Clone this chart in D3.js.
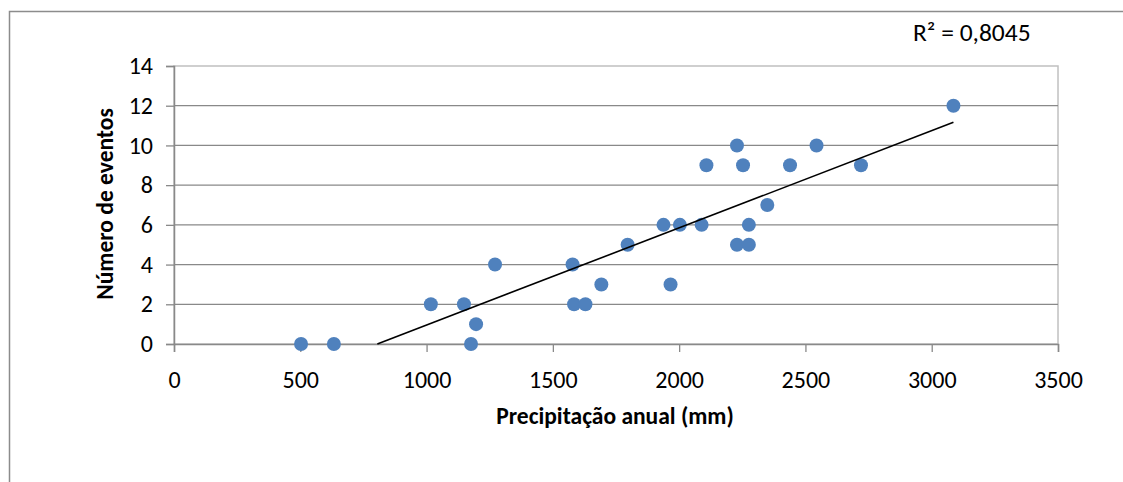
<!DOCTYPE html>
<html>
<head>
<meta charset="utf-8">
<script src="https://cdn.jsdelivr.net/npm/d3@7"></script>
<style>
  body { margin: 0; background: #fff; }
  svg text { font-family: Carlito, Calibri, Lato, sans-serif; fill: #000; }
</style>
</head>
<body>
<svg id="chart" width="1123" height="482"></svg>
<script>
// precipitação anual (mm) e número de eventos
var precip = [503, 633, 1017, 1148, 1176, 1196, 1271, 1578, 1584, 1629, 1692,
  1796, 1938, 1966, 2003, 2089, 2108, 2229, 2229, 2253, 2276, 2276, 2349, 2439,
  2544, 2720, 3086];
var eventos = [0, 0, 2, 2, 0, 1, 4, 4, 2, 2, 3,
  5, 6, 3, 6, 6, 9, 10, 5, 9, 6, 5, 7, 9,
  10, 9, 12];
var xTicks = [0, 500, 1000, 1500, 2000, 2500, 3000, 3500];
var yTicks = [0, 2, 4, 6, 8, 10, 12, 14];
var r2Label = "R² = 0,8045";

var svg = d3.select("#chart");
var pLeft = 174, pRight = 1058, pTop = 66, pBottom = 344;

var x = d3.scaleLinear().domain([0, 3500]).range([pLeft, pRight]);
var y = d3.scaleLinear().domain([0, 14]).range([pBottom, pTop]);

// outer frame (only left/top visible)
svg.append("rect")
  .attr("x", 9.5).attr("y", 11.5)
  .attr("width", 1300).attr("height", 600)
  .attr("fill", "none").attr("stroke", "#8c8c8c").attr("stroke-width", 1.5);

// plot area border
svg.append("rect")
  .attr("x", pLeft).attr("y", pTop)
  .attr("width", pRight - pLeft).attr("height", pBottom - pTop)
  .attr("fill", "none").attr("stroke", "#c0c0c0").attr("stroke-width", 1.5);

// gridlines
svg.append("g")
  .selectAll("line")
  .data(yTicks.filter(d => d > 0 && d < 14))
  .join("line")
  .attr("x1", pLeft).attr("x2", pRight)
  .attr("y1", d => y(d)).attr("y2", d => y(d))
  .attr("stroke", "#898989").attr("stroke-width", 1.3);

// y axis
var yAxis = svg.append("g")
  .attr("transform", "translate(" + pLeft + ",0)")
  .call(d3.axisLeft(y).tickValues(yTicks).tickFormat(d3.format("d")).tickSize(8).tickPadding(13));
yAxis.select(".domain").attr("stroke", "#898989").attr("stroke-width", 1.5);
yAxis.selectAll(".tick line").attr("stroke", "#898989").attr("stroke-width", 1.3);
yAxis.selectAll("text").style("font-size", "24px");

// x axis
var xAxis = svg.append("g")
  .attr("transform", "translate(0," + pBottom + ")")
  .call(d3.axisBottom(x).tickValues(xTicks).tickFormat(d3.format("d")).tickSize(8).tickPadding(19));
xAxis.select(".domain").attr("stroke", "#898989").attr("stroke-width", 1.5);
xAxis.selectAll(".tick line").attr("stroke", "#898989").attr("stroke-width", 1.3);
xAxis.selectAll("text").style("font-size", "24px");

// axis titles
svg.append("text")
  .attr("x", (pLeft + pRight) / 2 - 1).attr("y", 424)
  .attr("text-anchor", "middle")
  .style("font-size", "23.5px").style("font-weight", "bold")
  .text("Precipitação anual (mm)");

svg.append("text")
  .attr("transform", "translate(113," + ((pTop + pBottom) / 2 - 1) + ") rotate(-90)")
  .attr("text-anchor", "middle")
  .style("font-size", "23.5px").style("font-weight", "bold")
  .text("Número de eventos");

// points
var pts = precip.map((p, i) => ({ p: p, e: eventos[i] }));
svg.append("g")
  .selectAll("circle")
  .data(pts)
  .join("circle")
  .attr("cx", d => x(d.p)).attr("cy", d => y(d.e))
  .attr("r", 7).attr("fill", "#4f81bd");

// linear trendline (least squares), clipped to y >= 0
var mx = d3.mean(precip), my = d3.mean(eventos);
var sxy = d3.sum(pts, d => (d.p - mx) * (d.e - my));
var sxx = d3.sum(pts, d => (d.p - mx) * (d.p - mx));
var slope = sxy / sxx, icpt = my - slope * mx;
var x0 = Math.max(d3.min(precip), -icpt / slope), x1 = d3.max(precip);
svg.append("line")
  .attr("x1", x(x0)).attr("y1", y(slope * x0 + icpt))
  .attr("x2", x(x1)).attr("y2", y(slope * x1 + icpt))
  .attr("stroke", "#000").attr("stroke-width", 1.6);

svg.append("text")
  .attr("x", 913).attr("y", 41)
  .style("font-size", "25.5px")
  .text(r2Label);
</script>
</body>
</html>
